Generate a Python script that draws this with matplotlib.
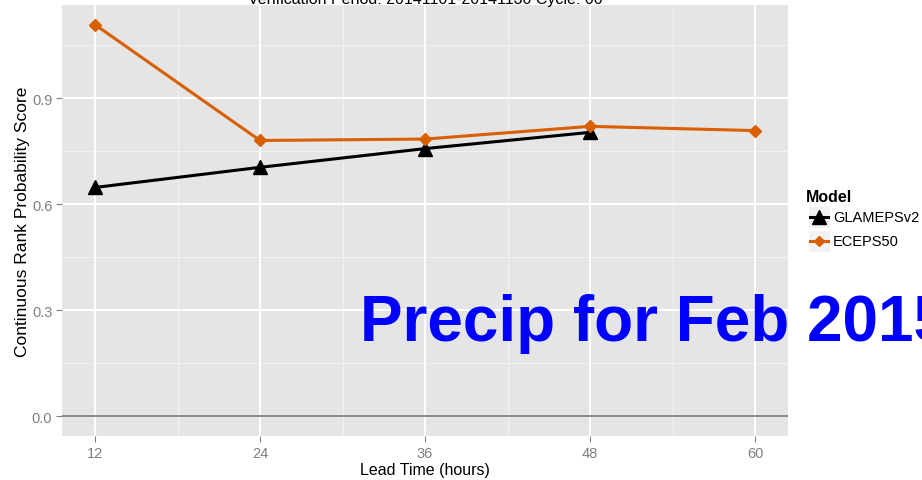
import matplotlib
matplotlib.use("Agg")
import matplotlib.pyplot as plt
from matplotlib.lines import Line2D

plt.rcParams['font.family'] = ['Liberation Sans', 'DejaVu Sans']

lead_time = [12, 24, 36, 48, 60]
glameps_lead = [12, 24, 36, 48]
glameps_crps = [0.648, 0.705, 0.758, 0.804]
eceps_crps = [1.109, 0.781, 0.785, 0.821, 0.809]
y_ticks = [0.0, 0.3, 0.6, 0.9]
y_minor = [0.15, 0.45, 0.75, 1.05]
x_minor = [18, 30, 42, 54]

W, H = 922, 481
fig = plt.figure(figsize=(W / 100, H / 100), dpi=100)
ax = fig.add_axes([62 / W, 1 - 437 / H, (788 - 62) / W, (437 - 6) / H])
ax.set_facecolor('#E5E5E5')
for s in ax.spines.values():
    s.set_visible(False)

ax.set_xlim(9.6, 62.4)
ax.set_ylim(-0.0555, 1.1645)

for v in y_minor:
    ax.axhline(v, color='#F2F2F2', lw=0.8, zorder=0)
for v in x_minor:
    ax.axvline(v, color='#F2F2F2', lw=0.8, zorder=0)
for v in y_ticks:
    ax.axhline(v, color='white', lw=1.4, zorder=0.5)
for v in lead_time:
    ax.axvline(v, color='white', lw=1.4, zorder=0.5)

ax.axhline(0.0, color='#808080', lw=1.3, zorder=1)

ax.plot(glameps_lead, glameps_crps, color='black', lw=2.2, marker='^',
        markersize=10.5, zorder=3)
ax.plot(lead_time, eceps_crps, color='#D95F02', lw=2.2, marker='D',
        markersize=6.5, zorder=3)

ax.set_xticks(lead_time)
ax.set_xticklabels([str(v) for v in lead_time])
ax.set_yticks(y_ticks)
ax.set_yticklabels(['0.0', '0.3', '0.6', '0.9'])
ax.tick_params(axis='both', colors='#7F7F7F', labelcolor='#7F7F7F',
               labelsize=10.5, length=4, width=0.8, pad=3)

ax.set_xlabel('Lead Time (hours)', fontsize=11.5, labelpad=2)
ax.set_ylabel('Continuous Rank Probability Score', fontsize=12.5, labelpad=1)

fig.text(425 / W, 1 - 4 / H, 'Verification Period: 20141101-20141130 Cycle: 00',
         ha='center', va='baseline', fontsize=11.5)

# legend
fig.text(806 / W, 1 - 202 / H, 'Model', fontsize=11.5, fontweight='bold',
         ha='left', va='baseline')
key_x0, key_w = 808, 22
for yc, col, mk, ms, lab in [(218, 'black', '^', 9.5, 'GLAMEPSv2'),
                             (242, '#D95F02', 'D', 5.5, 'ECEPS50')]:
    rect = plt.Rectangle((key_x0 / W, 1 - (yc + 11) / H), key_w / W, 22 / H,
                         transform=fig.transFigure, facecolor='#F2F2F2',
                         edgecolor='white', lw=0.8)
    fig.add_artist(rect)
    fig.add_artist(Line2D([(key_x0 + 2) / W, (key_x0 + key_w - 2) / W],
                          [1 - yc / H, 1 - yc / H], transform=fig.transFigure,
                          color=col, lw=2.2))
    fig.add_artist(Line2D([(key_x0 + key_w / 2) / W], [1 - yc / H],
                          transform=fig.transFigure, color=col, marker=mk,
                          markersize=ms, lw=0))
    fig.text((key_x0 + key_w + 3) / W, 1 - yc / H, lab, fontsize=10.5,
             ha='left', va='center')

fig.text(360 / W, 1 - 341 / H, 'Precip for Feb 2015', color='#0000FF',
         fontsize=46, fontweight='bold', ha='left', va='baseline')

fig.savefig('out.png', dpi=100)
